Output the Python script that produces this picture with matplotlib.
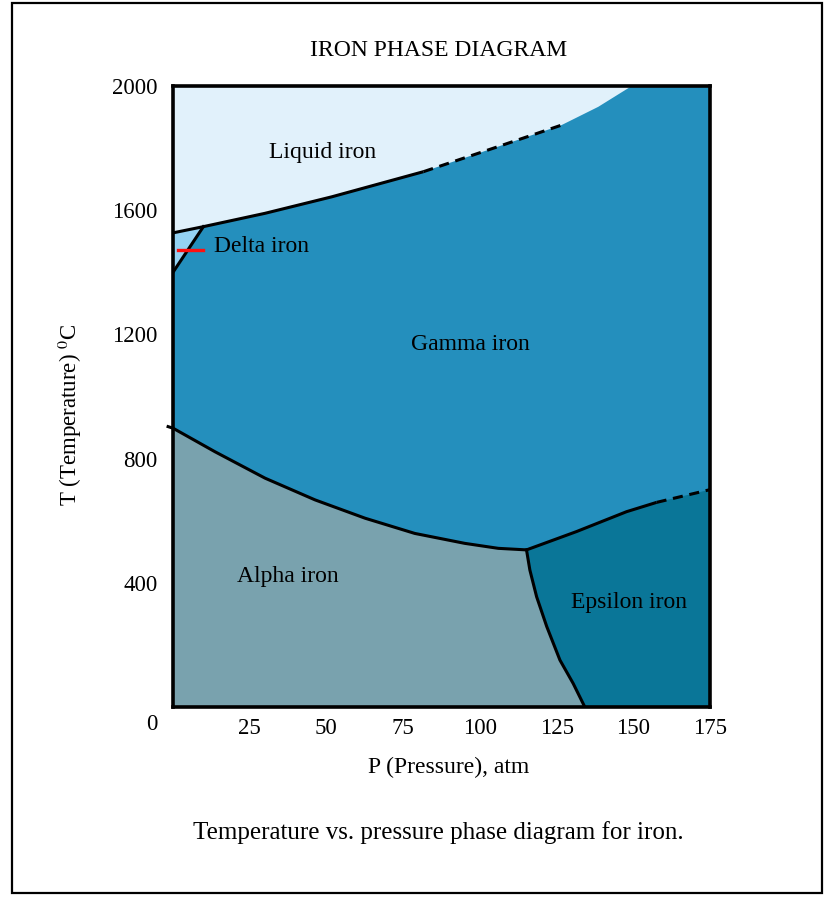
import matplotlib
matplotlib.use("Agg")
import matplotlib.pyplot as plt
from matplotlib.patches import Polygon, Rectangle

plt.rcParams['font.family'] = ['Liberation Serif', 'DejaVu Serif']
plt.rcParams['mathtext.fontset'] = 'stix'

# --- phase boundaries (P in atm, T in deg C) ---
liquid_P = [0, 9.9, 30, 51.7, 81.6, 106, 126.6, 138.6, 149.5]
liquid_T = [1527, 1547, 1590, 1643, 1724, 1805, 1874, 1933, 2000]

delta_P = [0, 9.9, 0]
delta_T = [1400, 1547, 1527]

alpha_gamma_P = [-1.6, 0, 13.7, 30, 46.3, 62.6, 78.8, 95.1, 106, 115.2]
alpha_gamma_T = [903, 898, 822, 737, 667, 608, 559, 527, 511, 506]

alpha_eps_P = [115.2, 116.3, 118.5, 121.8, 126.1, 130.4, 134.2]
alpha_eps_T = [506, 441, 355, 259, 151, 76, 0]

gamma_eps_P = [115.2, 131.5, 147.8, 157.6, 175]
gamma_eps_T = [506, 565, 629, 659, 700]

x_ticks = [25, 50, 75, 100, 125, 150, 175]
y_ticks = [400, 800, 1200, 1600, 2000]

phase_labels = ["Liquid iron", "Gamma iron", "Alpha iron", "Epsilon iron"]
label_P = [48.6, 97, 37.5, 148.6]
label_T = [1787, 1169, 419, 338]

# colours
c_liquid = "#e1f1fb"
c_gamma = "#248fbd"
c_alpha = "#79a2ae"
c_eps = "#0a7698"
c_delta = "#94d2f3"

fs = 17

fig = plt.figure(figsize=(8.25, 8.98), dpi=100)
ax = fig.add_axes([173 / 825, 1 - 707 / 898, 537 / 825, 621 / 898])
ax.set_xlim(0, 175)
ax.set_ylim(0, 2000)
ax.set_facecolor(c_gamma)

# liquid region (above the melting curve)
liq = list(zip(liquid_P, liquid_T)) + [(0, 2000)]
ax.add_patch(Polygon(liq, closed=True, fc=c_liquid, ec="none", zorder=1))

# delta region
ax.add_patch(Polygon(list(zip(delta_P, delta_T)), closed=True, fc=c_delta, ec="none", zorder=1))

# alpha region
alpha = [(0, 0)] + list(zip(alpha_gamma_P[1:], alpha_gamma_T[1:])) + list(zip(alpha_eps_P, alpha_eps_T))[1:]
ax.add_patch(Polygon(alpha, closed=True, fc=c_alpha, ec="none", zorder=1))

# epsilon region
eps = list(zip(gamma_eps_P, gamma_eps_T)) + [(175, 0)] + list(zip(alpha_eps_P, alpha_eps_T))[::-1]
ax.add_patch(Polygon(eps, closed=True, fc=c_eps, ec="none", zorder=1))

lw = 2.2
dash = (3.3, 2.2)
# melting curve: solid, then dashed, then unmarked
ax.plot(liquid_P[:5], liquid_T[:5], color="black", lw=lw, zorder=3, solid_capstyle="butt")
ax.plot(liquid_P[4:7], liquid_T[4:7], color="black", lw=lw, dashes=dash, zorder=3)

# delta boundary
ax.plot(delta_P[:2], delta_T[:2], color="black", lw=lw, zorder=3)
ax.plot([1.6, 9.8], [1472, 1472], color="#ff1010", lw=2.4, zorder=3)
ax.text(13.5, 1482, "Delta iron", fontsize=fs, ha="left", va="center", zorder=4)

# alpha/gamma, alpha/epsilon, gamma/epsilon
ax.plot(alpha_gamma_P, alpha_gamma_T, color="black", lw=lw, zorder=3, clip_on=False)
ax.plot(alpha_eps_P, alpha_eps_T, color="black", lw=lw, zorder=3)
ax.plot(gamma_eps_P[:4], gamma_eps_T[:4], color="black", lw=lw, zorder=3, solid_capstyle="butt")
ax.plot(gamma_eps_P[3:], gamma_eps_T[3:], color="black", lw=lw, dashes=dash, zorder=3)

for name, p, t in zip(phase_labels, label_P, label_T):
    ax.text(p, t, name, fontsize=fs, ha="center", va="center", zorder=4)

ax.set_xticks(x_ticks)
ax.set_yticks(y_ticks)
ax.tick_params(length=0, labelsize=16.5)
ax.tick_params(axis="x", pad=8)
ax.tick_params(axis="y", pad=11)
for s in ax.spines.values():
    s.set_linewidth(2.6)
    s.set_zorder(5)

# shared origin label
fig.text(152 / 825, 1 - 725 / 898, "0", fontsize=16.5, ha="center", va="center")

fig.text(449 / 825, 1 - 767 / 898, "P (Pressure), atm", fontsize=fs, ha="center", va="center")
fig.text(70 / 825, 1 - 415 / 898, "T (Temperature) $^{0}$C", fontsize=16.5,
         ha="center", va="center", rotation=90)
fig.text(439 / 825, 1 - 50 / 898, "IRON PHASE DIAGRAM", fontsize=fs, ha="center", va="center")
fig.text(438 / 825, 1 - 833 / 898, "Temperature vs. pressure phase diagram for iron.",
         fontsize=18, ha="center", va="center")

# outer frame
fig.patches.append(Rectangle((12 / 825, 5 / 898), 810 / 825, 890 / 898, transform=fig.transFigure,
                             fill=False, ec="black", lw=1.6))

fig.savefig("out.png", dpi=100)
